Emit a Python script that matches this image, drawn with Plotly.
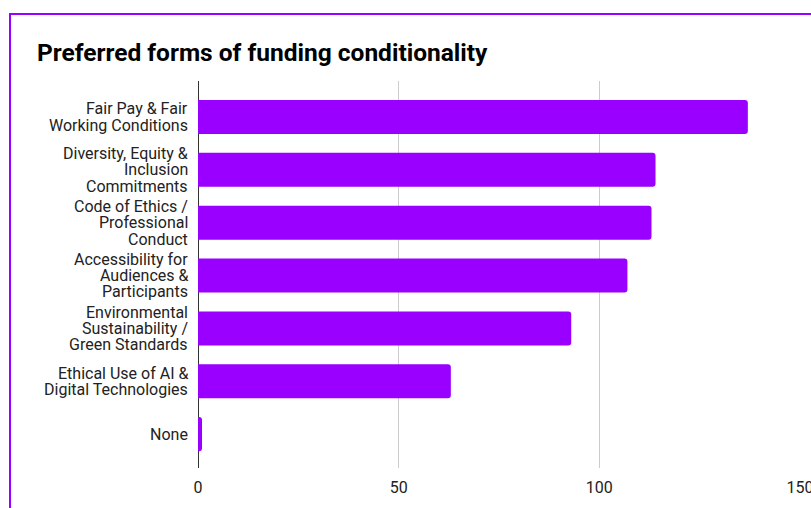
import plotly.graph_objects as go

categories = [
    "Fair Pay & Fair<br>Working Conditions",
    "Diversity, Equity &<br>Inclusion<br>Commitments",
    "Code of Ethics /<br>Professional<br>Conduct",
    "Accessibility for<br>Audiences &<br>Participants",
    "Environmental<br>Sustainability /<br>Green Standards",
    "Ethical Use of AI &<br>Digital Technologies",
    "None",
]
values = [137, 114, 113, 107, 93, 63, 1]
x_ticks = [0, 50, 100, 150]

PURPLE = "#9900ff"
LABEL_FONT = dict(family="Roboto, Arial, sans-serif", size=16, color="#222222")
LINE_H = 16.4

fig = go.Figure(
    go.Bar(
        x=values,
        y=categories,
        orientation="h",
        marker=dict(color=PURPLE, line=dict(width=0), cornerradius=3),
        width=0.645,
        hoverinfo="x",
    )
)

W, H = 811, 508
ml, mr, mt, mb = 198, 11, 81, 40
pw, ph = W - ml - mr, H - mt - mb

def px_x(p):
    return (p - ml) / pw

def px_y(p):
    return (H - mb - p) / ph

# multi-line category labels with tight line spacing
annotations = []
for cat in categories:
    lines = cat.split("<br>")
    n = len(lines)
    for i, line in enumerate(lines):
        annotations.append(
            dict(
                text=line,
                xref="paper",
                x=0,
                yref="y",
                y=cat,
                xanchor="right",
                yanchor="middle",
                xshift=-8,
                yshift=((n - 1) / 2 - i) * LINE_H,
                showarrow=False,
                font=LABEL_FONT,
            )
        )

fig.update_layout(
    width=W,
    height=H,
    margin=dict(l=ml, r=mr, t=mt, b=mb, pad=0, autoexpand=False),
    paper_bgcolor="white",
    plot_bgcolor="white",
    showlegend=False,
    font=dict(family="Roboto, Arial, sans-serif", size=16, color="#222222"),
    title=dict(
        text="<b>Preferred forms of funding conditionality</b>",
        font=dict(family="Roboto, Arial, sans-serif", size=24.5, color="#000000"),
        x=37 / W,
        xanchor="left",
        xref="container",
        y=1 - 52 / H,
        yanchor="middle",
        yref="container",
    ),
    xaxis=dict(
        range=[0, 150],
        tickvals=x_ticks,
        ticktext=[str(v) for v in x_ticks],
        showgrid=True,
        gridcolor="#cccccc",
        gridwidth=1,
        zeroline=True,
        zerolinecolor="#333333",
        zerolinewidth=1,
        showline=False,
        ticks="outside",
        ticklen=5,
        tickcolor="rgba(0,0,0,0)",
        ticklabeloverflow="allow",
        automargin=False,
        tickfont=dict(family="Roboto, Arial, sans-serif", size=16, color="#222222"),
        fixedrange=True,
    ),
    yaxis=dict(
        categoryorder="array",
        categoryarray=categories,
        range=[6.64, -0.68],
        showgrid=False,
        zeroline=False,
        showline=False,
        showticklabels=False,
        ticks="",
        automargin=False,
        fixedrange=True,
    ),
    annotations=annotations,
    shapes=[
        dict(
            type="rect",
            xref="paper",
            yref="paper",
            x0=px_x(10),
            x1=px_x(830),
            y0=px_y(530),
            y1=px_y(14),
            line=dict(color=PURPLE, width=2),
            fillcolor="rgba(0,0,0,0)",
            layer="above",
        )
    ],
)

fig.write_html("out.html")
